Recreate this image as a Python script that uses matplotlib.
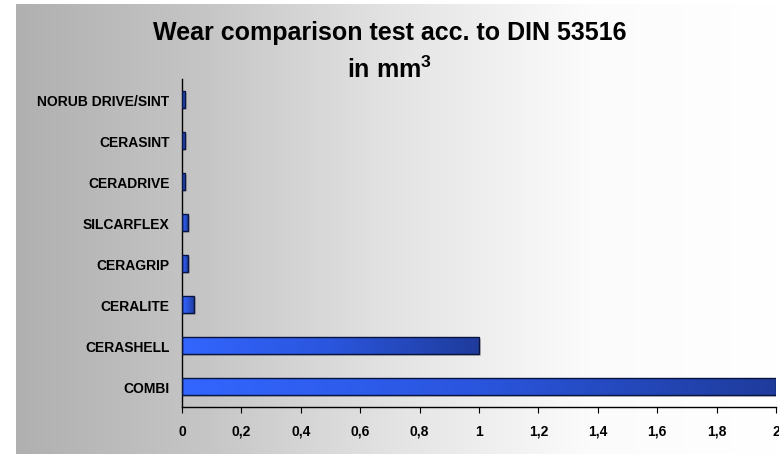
import numpy as np
import matplotlib
matplotlib.use("Agg")
import matplotlib.pyplot as plt
from matplotlib.colors import LinearSegmentedColormap

categories = ["COMBI", "CERASHELL", "CERALITE", "CERAGRIP", "SILCARFLEX",
              "CERADRIVE", "CERASINT", "NORUB DRIVE/SINT"]
wear_mm3 = [2.0, 1.0, 0.04, 0.02, 0.02, 0.01, 0.01, 0.01]
x_ticks = [0, 0.2, 0.4, 0.6, 0.8, 1.0, 1.2, 1.4, 1.6, 1.8, 2.0]

plt.rcParams['font.family'] = ['Liberation Sans', 'DejaVu Sans']
plt.rcParams['mathtext.fontset'] = 'custom'
plt.rcParams['mathtext.rm'] = 'Liberation Sans:bold'
plt.rcParams['mathtext.bf'] = 'Liberation Sans:bold'

fig = plt.figure(figsize=(7.79, 4.56), dpi=100)
fig.patch.set_facecolor('white')

# gray-to-white background panel
bg = fig.add_axes([16 / 779, 1 - 455 / 456, 763 / 779, 450 / 456])
bg_cmap = LinearSegmentedColormap.from_list('bg', ['#b0b0b0', '#c6c6c6', '#e4e4e4', '#fbfbfb', '#ffffff'])
bg.imshow(np.linspace(0, 1, 256).reshape(1, -1), cmap=bg_cmap, aspect='auto',
          extent=[0, 1, 0, 1])
bg.axis('off')
bg.set_zorder(0)

ax = fig.add_axes([182 / 779, 1 - 408 / 456, 594 / 779, 328 / 456])
ax.set_zorder(1)
ax.patch.set_alpha(0)

bar_cmap = LinearSegmentedColormap.from_list('bar', ['#3366ff', '#2a55dd', '#1f3c9c'])
grad = np.linspace(0, 1, 256).reshape(1, -1)
h = 0.4
y = np.arange(len(categories))
for yi, v in zip(y, wear_mm3):
    # soft shadow
    ax.add_patch(plt.Rectangle((0, yi - h / 2 - 0.05), v + 0.008, h, facecolor='#8a8a8a',
                               alpha=0.45, edgecolor='none', zorder=1))
    ax.imshow(grad, cmap=bar_cmap, aspect='auto',
              extent=[0, v, yi - h / 2, yi + h / 2], zorder=2)
    ax.add_patch(plt.Rectangle((0, yi - h / 2), v, h, facecolor='none',
                               edgecolor='#0a1440', linewidth=1.0, zorder=3))

ax.set_xlim(0, 2)
ax.set_ylim(-0.5, len(categories) - 0.5)
ax.set_yticks(y)
ax.set_yticklabels(categories, fontsize=10, fontweight='bold')
ax.set_xticks(x_ticks)
ax.set_xticklabels([f"{t:g}".replace('.', ',') for t in x_ticks], fontsize=10, fontweight='bold')
ax.tick_params(axis='y', length=0, pad=9)
ax.tick_params(axis='x', length=4, direction='out', pad=8)
for s in ['top', 'right']:
    ax.spines[s].set_visible(False)
ax.spines['left'].set_linewidth(1)
ax.spines['bottom'].set_linewidth(1)

fig.text(0.5, 1 - 33 / 456, "Wear comparison test acc. to DIN 53516",
         ha='center', va='center', fontsize=18, fontweight='bold')
fig.text(0.5, 1 - 70 / 456, "in mm$^{\\mathbf{3}}$",
         ha='center', va='center', fontsize=18, fontweight='bold')

fig.savefig("out.png", dpi=100)
